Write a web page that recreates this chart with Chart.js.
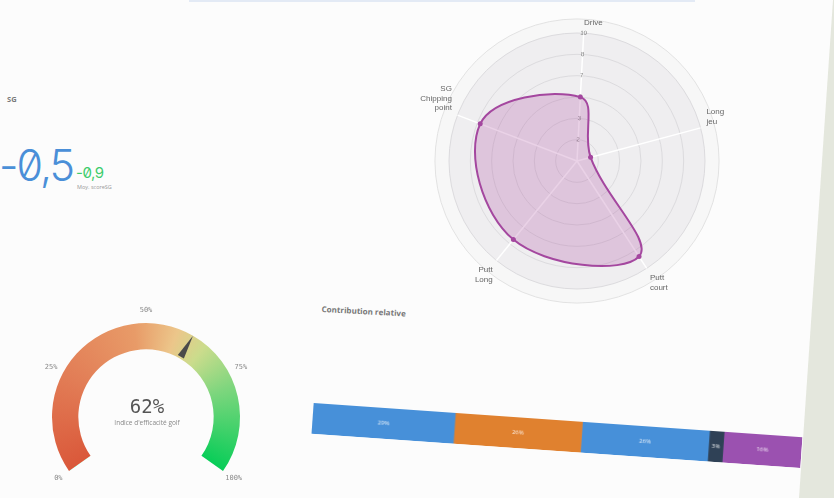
<!DOCTYPE html>
<html>
<head>
<meta charset="utf-8">
<script src="https://cdn.jsdelivr.net/npm/chart.js@4.4.0/dist/chart.umd.min.js"></script>
<style>
  html, body { margin: 0; padding: 0; width: 834px; height: 498px; overflow: hidden; background: #fcfcfc; font-family: "Open Sans", sans-serif; }
  .abs { position: absolute; }
  #paper { left: 0; top: 0; width: 834px; height: 498px; background: #e4e7dd; clip-path: polygon(833px 0, 834px 0, 834px 498px, 799px 498px); }
  #topline { left: 189px; top: 0; width: 506px; height: 2px; background: #e3eaf5; }
  #sg { left: 7px; top: 94px; font-size: 7.5px; font-weight: 700; color: #7a7a7a; }
  #kpi { left: -1px; top: 139px; font-family: Inter, sans-serif; font-weight: 300; font-size: 43px; color: #4a8fd8; font-feature-settings: "zero" 1; letter-spacing: -2px; }
  #kpi2 { left: 76px; top: 163px; font-family: Inter, sans-serif; font-size: 15px; color: #3dcc6c; font-feature-settings: "zero" 1; letter-spacing: -0.5px; }
  #kpi3 { left: 77px; top: 183px; font-size: 5.5px; color: #999; }
  #bartitle { left: 322px; top: 303px; font-size: 8px; font-weight: 700; color: #777; transform: rotate(3deg); transform-origin: left top; }
  #barwrap { left: 312px; top: 420px; width: 490px; height: 31px; transform: rotate(4deg); }
</style>
</head>
<body>
<div id="paper" class="abs"></div>
<div id="topline" class="abs"></div>
<div id="sg" class="abs">SG</div>
<div id="kpi" class="abs">-0,5</div>
<div id="kpi2" class="abs">-0,9</div>
<div id="kpi3" class="abs">Moy. scoreSG</div>
<div id="bartitle" class="abs">Contribution relative</div>

<canvas id="radar" class="abs" width="340" height="330" style="left:403px;top:-9px"></canvas>
<canvas id="gauge" class="abs" width="238" height="198" style="left:27px;top:298px"></canvas>
<div id="barwrap" class="abs"><canvas id="bar" width="490" height="31"></canvas></div>

<script>
// Radar data (clockwise from the top)
const radarLabels = [['Drive'], ['Long', 'jeu'], ['Putt', 'court'], ['Putt', 'Long'], ['SG', 'Chipping', 'point']];
const radarValues = [5, 1.1, 8.9, 7.9, 8.1];
const radarMax = 10;
const radarSteps = 6;

// Gauge data
const gaugeValue = [62];
const gaugeTicks = ['0%', '25%', '50%', '75%', '100%'];
const gaugeTitle = "Indice d'efficacité golf";

// Contribution bar data
const barSeries = ['Drive', 'Long jeu', 'Putt court', 'Putt Long', 'SG Chipping point'];
const barValues = [29, 26, 26, 3, 16];
const barColors = ['#4790d9', '#e0812f', '#4790d9', '#2f4156', '#9b51b0'];

const gaugeRotation = -125;
const gaugeSpan = 250;

// light outer disc behind the radar
const outerDisc = {
    id: 'outerDisc',
    beforeDraw(chart) {
        const r = chart.scales.r;
        const ctx = chart.ctx;
        ctx.save();
        ctx.beginPath();
        ctx.arc(r.xCenter, r.yCenter, r.drawingArea * 1.11, 0, Math.PI * 2);
        ctx.fillStyle = '#f7f7f7';
        ctx.fill();
        ctx.strokeStyle = '#e2e2e2';
        ctx.lineWidth = 1;
        ctx.stroke();
        ctx.restore();
    }
};

new Chart(document.getElementById('radar'), {
    type: 'radar',
    data: {
        labels: radarLabels,
        datasets: [{
            data: radarValues,
            borderColor: '#a4479f',
            backgroundColor: 'rgba(178, 92, 170, 0.28)',
            borderWidth: 2,
            pointRadius: 2.5,
            pointBackgroundColor: '#a4479f',
            pointBorderWidth: 0,
            tension: 0.4,
            fill: true
        }]
    },
    options: {
        responsive: false,
        animation: false,
        layout: { padding: 13 },
        plugins: { legend: { display: false }, tooltip: { enabled: false } },
        scales: {
            r: {
                min: 0,
                max: radarMax,
                startAngle: 3,
                backgroundColor: '#efeef0',
                grid: { circular: true, color: '#dcdbde' },
                angleLines: { color: '#ffffff', lineWidth: 1.5 },
                ticks: {
                    stepSize: radarMax / radarSteps,
                    callback: v => Math.round(v),
                    showLabelBackdrop: false,
                    color: '#777',
                    font: { size: 6 }
                },
                pointLabels: { color: '#666', font: { size: 8 }, padding: 1 }
            }
        }
    },
    plugins: [outerDisc]
});

// conic gradient around the gauge centre
function gaugeGradient(context) {
    const chart = context.chart;
    const area = chart.chartArea;
    const ctrl = chart.getDatasetMeta(0).controller;
    if (!area || !ctrl || ctrl.offsetY === undefined) return '#e8a070';
    const cx = (area.left + area.right) / 2 + ctrl.offsetX;
    const cy = (area.top + area.bottom) / 2 + ctrl.offsetY;
    const g = chart.ctx.createConicGradient((gaugeRotation - 90) * Math.PI / 180, cx, cy);
    const f = gaugeSpan / 360;
    g.addColorStop(0, '#da583a');
    g.addColorStop(0.25 * f, '#e27d56');
    g.addColorStop(0.47 * f, '#e89b68');
    g.addColorStop(0.58 * f, '#ecc68a');
    g.addColorStop(0.66 * f, '#cbdc8c');
    g.addColorStop(0.78 * f, '#7fd67e');
    g.addColorStop(f, '#08cd58');
    g.addColorStop(1, '#08cd58');
    return g;
}

const gaugeDecor = {
    id: 'gaugeDecor',
    afterDatasetsDraw(chart) {
        const arc = chart.getDatasetMeta(0).data[0];
        const { x, y, innerRadius, outerRadius } = arc.getProps(['x', 'y', 'innerRadius', 'outerRadius'], true);
        const ctx = chart.ctx;
        const toAngle = p => (gaugeRotation - 90 + gaugeSpan * p) * Math.PI / 180;

        // needle
        const a = toAngle(gaugeValue[0] / 100);
        const c = Math.cos(a), s = Math.sin(a);
        const r0 = innerRadius + 2, r1 = outerRadius;
        ctx.save();
        ctx.beginPath();
        ctx.moveTo(x + c * r1, y + s * r1);
        ctx.lineTo(x + c * r0 - s * 3.5, y + s * r0 + c * 3.5);
        ctx.lineTo(x + c * r0 + s * 3.5, y + s * r0 - c * 3.5);
        ctx.closePath();
        ctx.fillStyle = '#4a4a4a';
        ctx.fill();

        // tick labels
        ctx.fillStyle = '#8a8a8a';
        ctx.font = '7px "DejaVu Sans Mono"';
        ctx.textAlign = 'center';
        ctx.textBaseline = 'middle';
        gaugeTicks.forEach((t, i) => {
            const ang = toAngle(i / (gaugeTicks.length - 1));
            ctx.fillText(t, x + Math.cos(ang) * (outerRadius + 13), y + Math.sin(ang) * (outerRadius + 13));
        });

        // centre value
        ctx.fillStyle = '#555';
        ctx.font = '19px "DejaVu Sans Mono"';
        ctx.fillText(gaugeValue[0] + '%', x + 1, y - 9);
        ctx.fillStyle = '#888';
        ctx.font = '6.5px "Open Sans"';
        ctx.fillText(gaugeTitle, x + 1, y + 6);
        ctx.restore();
    }
};

new Chart(document.getElementById('gauge'), {
    type: 'doughnut',
    data: {
        datasets: [{
            data: [gaugeValue[0], 100 - gaugeValue[0]],
            backgroundColor: gaugeGradient,
            borderWidth: 0
        }]
    },
    options: {
        responsive: false,
        animation: false,
        rotation: gaugeRotation,
        circumference: gaugeSpan,
        cutout: '72%',
        layout: { padding: 25 },
        plugins: { legend: { display: false }, tooltip: { enabled: false } }
    },
    plugins: [gaugeDecor]
});

// white percentage labels inside each segment
const barText = {
    id: 'barText',
    afterDatasetsDraw(chart) {
        const ctx = chart.ctx;
        ctx.save();
        ctx.fillStyle = 'rgba(255,255,255,0.85)';
        ctx.font = '6px "Open Sans"';
        ctx.textAlign = 'center';
        ctx.textBaseline = 'middle';
        chart.data.datasets.forEach((ds, i) => {
            const el = chart.getDatasetMeta(i).data[0];
            ctx.fillText(ds.data[0] + '%', (el.x + el.base) / 2, el.y);
        });
        ctx.restore();
    }
};

new Chart(document.getElementById('bar'), {
    type: 'bar',
    data: {
        labels: [''],
        datasets: barSeries.map((name, i) => ({
            label: name,
            data: [barValues[i]],
            backgroundColor: barColors[i],
            borderWidth: 0,
            barPercentage: 1,
            categoryPercentage: 1
        }))
    },
    options: {
        indexAxis: 'y',
        responsive: false,
        animation: false,
        layout: { padding: 0 },
        scales: {
            x: { stacked: true, display: false, min: 0, max: 100 },
            y: { stacked: true, display: false }
        },
        plugins: { legend: { display: false }, tooltip: { enabled: false } }
    },
    plugins: [barText]
});
</script>
</body>
</html>
